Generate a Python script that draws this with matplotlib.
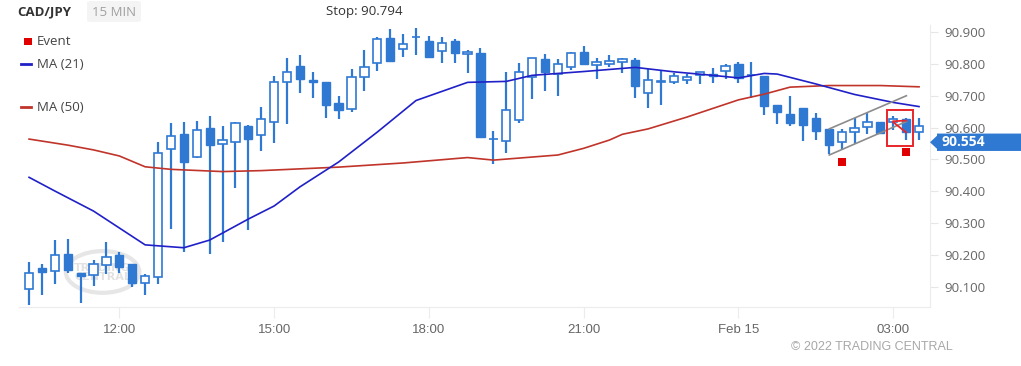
import matplotlib
matplotlib.use("Agg")
import matplotlib.pyplot as plt
from matplotlib.patches import Rectangle, Polygon, Ellipse, FancyBboxPatch
from matplotlib.transforms import blended_transform_factory
import numpy as np

# ---------------- data ----------------
opens = [90.093, 90.159, 90.149, 90.203, 90.145, 90.138, 90.168, 90.199, 90.173, 90.112,
         90.132, 90.532, 90.580, 90.508, 90.599, 90.548, 90.554, 90.605, 90.576, 90.617,
         90.744, 90.792, 90.750, 90.742, 90.676, 90.657, 90.759, 90.802, 90.881, 90.848,
         90.885, 90.871, 90.840, 90.871, 90.831, 90.834, 90.564, 90.558, 90.624, 90.758,
         90.814, 90.767, 90.791, 90.836, 90.797, 90.801, 90.805, 90.813, 90.709, 90.744,
         90.742, 90.749, 90.765, 90.769, 90.779, 90.799, 90.765, 90.762, 90.671, 90.642,
         90.661, 90.629, 90.595, 90.556, 90.587, 90.603, 90.619, 90.619, 90.626, 90.587]
highs = [90.178, 90.171, 90.247, 90.251, 90.145, 90.186, 90.240, 90.211, 90.173, 90.140,
         90.554, 90.614, 90.619, 90.622, 90.636, 90.606, 90.617, 90.607, 90.664, 90.762,
         90.819, 90.827, 90.774, 90.742, 90.699, 90.784, 90.843, 90.883, 90.908, 90.893,
         90.912, 90.887, 90.883, 90.877, 90.844, 90.849, 90.589, 90.775, 90.802, 90.817,
         90.830, 90.814, 90.838, 90.856, 90.817, 90.827, 90.819, 90.819, 90.783, 90.781,
         90.772, 90.769, 90.774, 90.786, 90.799, 90.807, 90.807, 90.762, 90.671, 90.700,
         90.661, 90.647, 90.595, 90.595, 90.629, 90.647, 90.619, 90.636, 90.629, 90.629]
lows = [90.044, 90.075, 90.109, 90.144, 90.051, 90.104, 90.140, 90.143, 90.099, 90.074,
        90.109, 90.281, 90.211, 90.505, 90.203, 90.240, 90.410, 90.279, 90.526, 90.551,
        90.610, 90.710, 90.692, 90.630, 90.626, 90.648, 90.716, 90.779, 90.809, 90.821,
        90.827, 90.821, 90.802, 90.804, 90.770, 90.570, 90.485, 90.521, 90.614, 90.691,
        90.715, 90.700, 90.781, 90.797, 90.752, 90.789, 90.770, 90.694, 90.661, 90.672,
        90.737, 90.737, 90.737, 90.739, 90.753, 90.739, 90.692, 90.640, 90.610, 90.605,
        90.559, 90.560, 90.516, 90.530, 90.549, 90.579, 90.582, 90.593, 90.561, 90.561]
closes = [90.145, 90.146, 90.199, 90.153, 90.134, 90.171, 90.195, 90.164, 90.112, 90.135,
          90.519, 90.575, 90.493, 90.593, 90.545, 90.561, 90.615, 90.564, 90.627, 90.743,
          90.774, 90.752, 90.742, 90.671, 90.655, 90.758, 90.789, 90.877, 90.810, 90.861,
          90.885, 90.821, 90.866, 90.833, 90.838, 90.570, 90.564, 90.654, 90.775, 90.817,
          90.774, 90.799, 90.835, 90.800, 90.805, 90.810, 90.814, 90.731, 90.748, 90.744,
          90.761, 90.760, 90.774, 90.761, 90.792, 90.755, 90.765, 90.669, 90.648, 90.614,
          90.608, 90.590, 90.545, 90.587, 90.598, 90.619, 90.582, 90.626, 90.587, 90.606]

ma21_idx = [0, 2, 5, 9, 12, 14, 17, 19, 21, 24, 27, 30, 34, 37, 39, 43, 47, 50, 53, 55, 57, 58, 61, 64, 67, 69]
ma21_val = [90.444, 90.401, 90.338, 90.232, 90.223, 90.247, 90.313, 90.354, 90.414, 90.492,
            90.586, 90.685, 90.742, 90.745, 90.764, 90.776, 90.789, 90.775, 90.764, 90.756,
            90.770, 90.768, 90.737, 90.704, 90.679, 90.666]
ma50_idx = [0, 3, 5, 7, 9, 11, 15, 18, 24, 29, 34, 36, 41, 43, 45, 46, 48, 51, 53, 55, 57, 59, 62, 66, 69]
ma50_val = [90.564, 90.545, 90.530, 90.511, 90.477, 90.469, 90.462, 90.465, 90.476, 90.489,
            90.506, 90.498, 90.514, 90.535, 90.561, 90.579, 90.596, 90.633, 90.660, 90.687,
            90.705, 90.727, 90.732, 90.732, 90.728]

xtick_idx = [7, 19, 31, 43, 55, 67]
xtick_labels = ["12:00", "15:00", "18:00", "21:00", "Feb 15", "03:00"]
ytick_vals = [90.1, 90.2, 90.3, 90.4, 90.5, 90.6, 90.7, 90.8, 90.9]

event_idx = [63, 68]
event_val = [90.492, 90.522]
channel_idx = [62.04, 68.02]
channel_upper = [90.596, 90.700]
channel_lower = [90.514, 90.619]
box_idx = [66.5, 68.5]
box_val = [90.541, 90.654]
last_price = 90.554
stop_price = 90.794

# ---------------- style ----------------
W, H = 1021, 366
fig = plt.figure(figsize=(W / 100, H / 100), dpi=100)
ax = fig.add_axes([19 / W, 1 - 307 / H, (930 - 19) / W, (307 - 25) / H])

CBLUE = "#2f79d3"
x = np.arange(len(opens))
o = np.array(opens); c = np.array(closes)
up = c >= o
bw = 0.64

ax.vlines(x, lows, highs, color=CBLUE, lw=1.6, zorder=2)
bottoms = np.minimum(o, c)
heights = np.maximum(np.abs(c - o), 0.0008)
ax.bar(x[up], heights[up], bw, bottom=bottoms[up], facecolor="white",
       edgecolor=CBLUE, linewidth=1.2, zorder=3)
ax.bar(x[~up], heights[~up], bw, bottom=bottoms[~up], facecolor=CBLUE,
       edgecolor=CBLUE, linewidth=1.0, zorder=3)

ax.plot(ma50_idx, ma50_val, color="#c0342a", lw=1.2, zorder=4)
ax.plot(ma21_idx, ma21_val, color="#2020c8", lw=1.2, zorder=4)

# channel
ax.plot(channel_idx, channel_upper, color="#8c8c8c", lw=1.2, zorder=5)
ax.plot(channel_idx, channel_lower, color="#8c8c8c", lw=1.2, zorder=5)
# red highlight box
ax.add_patch(Rectangle((box_idx[0], box_val[0]), box_idx[1] - box_idx[0], box_val[1] - box_val[0],
                       fill=False, edgecolor="#e8262a", lw=1.4, zorder=6))
# small red marker lines inside box
ax.plot([67.0, 68.0], [90.620, 90.622], color="#e8262a", lw=1.3, zorder=6)
ax.plot([67.0, 68.0], [90.617, 90.585], color="#e8262a", lw=1.3, zorder=6)
# events
ax.scatter(event_idx, event_val, marker="s", s=38, color="#e00000", zorder=7, linewidths=0)

# watermark
ax.add_patch(Ellipse((5.7, 90.147), 5.7, 0.131, fill=False, edgecolor="#e6e6e6", lw=3, zorder=1))
ax.text(5.7, 90.145, "TRADING\nCENTRAL", ha="center", va="center", fontsize=8, color="#e2e2e2",
        fontweight="bold", linespacing=0.95, zorder=1)

ax.set_xlim(-0.78, 69.85)
ax.set_ylim(90.037, 90.922)

for s in ["top", "left"]:
    ax.spines[s].set_visible(False)
ax.spines["bottom"].set_color("#ececec")
ax.spines["right"].set_color("#ececec")

ax.yaxis.tick_right()
ax.set_yticks(ytick_vals)
ax.set_yticklabels([f"{v:.3f}" for v in ytick_vals], fontfamily="Open Sans", fontsize=9.5, color="#666666")
ax.tick_params(axis="y", length=6, color="#e6e6e6", pad=4)
ax.set_xticks(xtick_idx)
ax.set_xticklabels(xtick_labels, fontfamily="Liberation Sans", fontsize=9.5, color="#666666")
ax.tick_params(axis="x", length=8, color="#ececec", pad=4)

# last price label
tr = blended_transform_factory(ax.transAxes, ax.transData)
aw = (930 - 19)
hh = 8.7 / 318.75
x0 = 1.0
x1 = 1 + 7 / aw
x2 = 1 + 95 / aw
ax.add_patch(Polygon([[x0, last_price], [x1, last_price + hh * 0.75], [x1, last_price + hh],
                      [x2, last_price + hh], [x2, last_price - hh], [x1, last_price - hh],
                      [x1, last_price - hh * 0.75]], closed=True, transform=tr,
                     facecolor="#2f79d3", edgecolor="none", clip_on=False, zorder=10))
ax.text(1 + 11 / aw, last_price, f"{last_price:.3f}", transform=tr, ha="left", va="center",
        fontfamily="Open Sans", fontsize=10, fontweight="bold", color="white", zorder=11)

# header
def fx(px): return px / W
def fy(py): return 1 - py / H

fig.text(fx(17), fy(12), "CAD/JPY", fontfamily="Open Sans", fontsize=9.5, fontweight="bold",
         color="#333333", va="center", ha="left")
fig.patches.append(FancyBboxPatch((fx(87), fy(22)), fx(141) - fx(87), fy(1) - fy(22),
                                  boxstyle="round,pad=0,rounding_size=0.005", transform=fig.transFigure,
                                  facecolor="#f4f4f4", edgecolor="none", figure=fig))
fig.text(fx(114), fy(12), "15 MIN", fontfamily="Open Sans", fontsize=9.5, color="#a0a0a0",
         va="center", ha="center")
fig.text(fx(326), fy(12), f"Stop: {stop_price:.3f}", fontfamily="Open Sans", fontsize=9.5,
         color="#333333", va="center", ha="left")

# legend
fig.patches.append(Rectangle((fx(24), fy(45)), fx(7.5), 7.5 / H, transform=fig.transFigure,
                             facecolor="#e00000", edgecolor="none", figure=fig))
fig.text(fx(37), fy(41.5), "Event", fontfamily="Open Sans", fontsize=9.5, color="#444444", va="center")
fig.lines.append(plt.Line2D([fx(21), fx(31)], [fy(64), fy(64)], transform=fig.transFigure,
                            color="#2020c8", lw=2, figure=fig))
fig.text(fx(37), fy(64.5), "MA (21)", fontfamily="Open Sans", fontsize=9.5, color="#444444", va="center")
fig.lines.append(plt.Line2D([fx(21), fx(31)], [fy(107), fy(107)], transform=fig.transFigure,
                            color="#c0342a", lw=2, figure=fig))
fig.text(fx(37), fy(107.5), "MA (50)", fontfamily="Open Sans", fontsize=9.5, color="#444444", va="center")

fig.text(fx(953), fy(347), "© 2022 TRADING CENTRAL", fontfamily="Liberation Sans",
         fontsize=9, color="#a8a8a8", va="center", ha="right")

fig.savefig("out.png", dpi=100, facecolor="white")
